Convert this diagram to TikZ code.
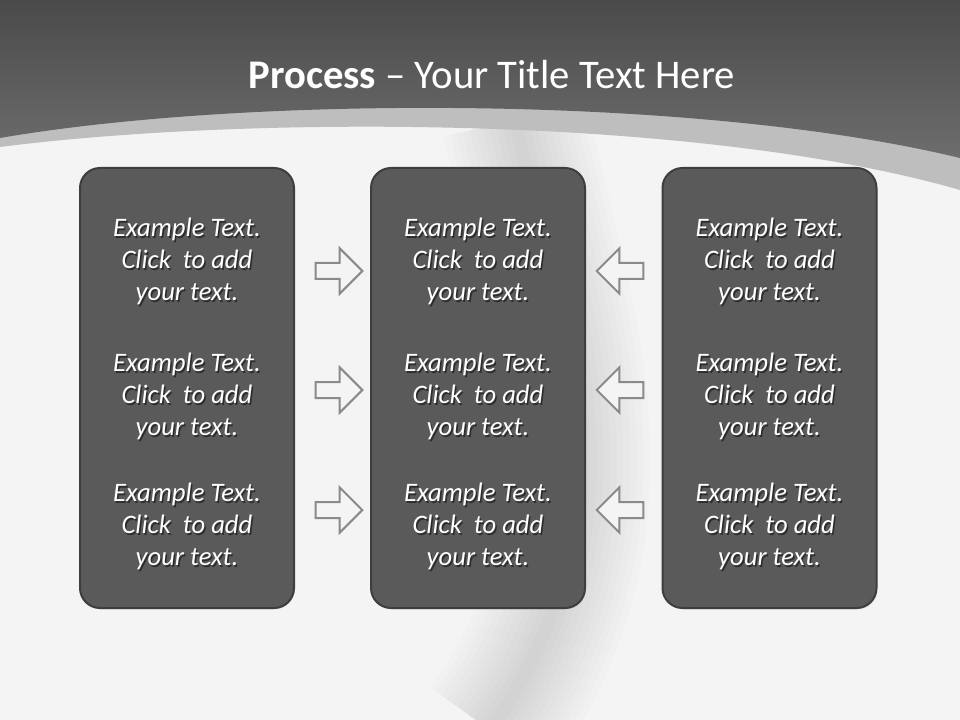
\documentclass[tikz,border=0pt]{standalone}
\usepackage{fontspec}
\setmainfont{Carlito}
\usetikzlibrary{positioning, shapes.arrows, shadows}
\definecolor{boxFill}{HTML}{5A5A5A}
\definecolor{boxLine}{HTML}{3E3E3E}
\definecolor{bandGray}{HTML}{BEBEBE}
\definecolor{topDark}{HTML}{4A4A4A}
\definecolor{topLight}{HTML}{6D6D6D}
\definecolor{arrowLine}{HTML}{8A8A8A}
\definecolor{paper}{HTML}{F4F4F4}
\newcommand{\clicktext}{Example Text.\\Click~ to add\\your text.}

\begin{document}
\begin{tikzpicture}[
    x = 0.75pt, y = -0.75pt,
    panel/.style = {draw=boxLine, line width=1.5pt, fill=boxFill,
        rounded corners=15pt, minimum width=160.5pt, minimum height=330pt,
        drop shadow={opacity=0.25, shadow xshift=0.6pt, shadow yshift=-1pt}},
    body/.style = {text=white, align=center, inner sep=0pt,
        font=\fontsize{20}{24}\selectfont\itshape},
    bodyshade/.style = {body, text=black, opacity=0.5},
    flow/.style = {single arrow, draw=arrowLine, line width=1.5pt, fill=paper,
        inner xsep=0pt, inner ysep=5.25pt, minimum height=35pt,
        single arrow head extend=11pt},
    toright/.style = {flow},
    toleft/.style = {flow, shape border rotate=180}
  ]
  \useasboundingbox (0,0) rectangle (960,720);
  % background
  \fill[paper] (0,0) rectangle (960,720);
  \foreach \w in {110,100,...,10}
    \draw[line width=\w pt, black, opacity=0.012]
      (515,120) .. controls (560,320) and (640,520) .. (490,730);
  \fill[bandGray] (0,0) -- (960,0) -- (960,190)
    .. controls (700,115) and (250,115) .. (0,147) -- cycle;
  \shade[top color=topDark, bottom color=topLight] (0,0) -- (960,0) -- (960,158)
    .. controls (700,95) and (250,95) .. (0,138) -- cycle;

  \node[text=white, font=\fontsize{30.5}{36}\selectfont] (title) at (492,75)
    {\textbf{Process} – Your Title Text Here};

  % columns
  \foreach \col/\cx in {left/187, mid/478, right/769.5} {
    \node[panel] (\col) at (\cx,388) {};
    \foreach \row/\cy in {1/261, 2/396, 3/526} {
      \node[bodyshade] (\col-\row-shade) at (\cx+1.5,\cy+2) {\clicktext};
      \node[body] (\col-\row) at (\cx,\cy) {\clicktext};
    }
  }

  % arrows
  \foreach \row/\cy in {1/271, 2/390, 3/510} {
    \node[toright] (push-\row) at (335,\cy) {};
    \node[toleft] (pull-\row) at (624,\cy) {};
  }
\end{tikzpicture}
\end{document}
